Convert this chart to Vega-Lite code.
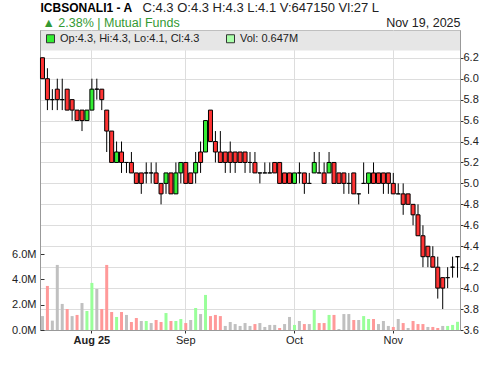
{
  "$schema": "https://vega.github.io/schema/vega-lite/v6.json",
  "width": 420,
  "height": 300,
  "autosize": {"type": "none"},
  "padding": {"left": 40, "top": 30, "right": 40, "bottom": 36},
  "background": "white",
  "config": {
    "font": "Liberation Sans",
    "view": {"stroke": "#999999"},
    "axis": {"labelFont": "Liberation Sans", "titleFont": "Liberation Sans", "labelOverlap": false}
  },
  "datasets": {
    "ohlc": [
      {"d": "2025-07-20", "o": 6.2, "h": 6.2, "l": 6.0, "c": 6.0, "v": 1100000},
      {"d": "2025-07-21", "o": 6.0, "h": 6.1, "l": 5.7, "c": 5.8, "v": 3480000},
      {"d": "2025-07-22", "o": 5.8, "h": 5.9, "l": 5.7, "c": 5.8, "v": 740000},
      {"d": "2025-07-23", "o": 5.9, "h": 6.0, "l": 5.7, "c": 5.8, "v": 5140000},
      {"d": "2025-07-24", "o": 5.8, "h": 6.0, "l": 5.7, "c": 5.8, "v": 2060000},
      {"d": "2025-07-27", "o": 5.9, "h": 5.9, "l": 5.7, "c": 5.7, "v": 1660000},
      {"d": "2025-07-28", "o": 5.8, "h": 5.8, "l": 5.6, "c": 5.7, "v": 1100000},
      {"d": "2025-07-29", "o": 5.7, "h": 5.7, "l": 5.6, "c": 5.6, "v": 1190000},
      {"d": "2025-07-30", "o": 5.7, "h": 5.7, "l": 5.5, "c": 5.6, "v": 2130000},
      {"d": "2025-07-31", "o": 5.6, "h": 5.7, "l": 5.6, "c": 5.7, "v": 1500000},
      {"d": "2025-08-03", "o": 5.7, "h": 6.0, "l": 5.7, "c": 5.9, "v": 3720000},
      {"d": "2025-08-04", "o": 5.9, "h": 6.0, "l": 5.8, "c": 5.9, "v": 3240000},
      {"d": "2025-08-06", "o": 5.9, "h": 5.9, "l": 5.7, "c": 5.8, "v": 1660000},
      {"d": "2025-08-07", "o": 5.7, "h": 5.7, "l": 5.3, "c": 5.5, "v": 5140000},
      {"d": "2025-08-10", "o": 5.5, "h": 5.5, "l": 5.2, "c": 5.2, "v": 1420000},
      {"d": "2025-08-11", "o": 5.2, "h": 5.4, "l": 5.2, "c": 5.3, "v": 1030000},
      {"d": "2025-08-12", "o": 5.3, "h": 5.4, "l": 5.1, "c": 5.2, "v": 1420000},
      {"d": "2025-08-13", "o": 5.2, "h": 5.2, "l": 5.1, "c": 5.2, "v": 1190000},
      {"d": "2025-08-14", "o": 5.2, "h": 5.3, "l": 5.1, "c": 5.1, "v": 630000},
      {"d": "2025-08-17", "o": 5.1, "h": 5.1, "l": 5.0, "c": 5.0, "v": 950000},
      {"d": "2025-08-18", "o": 5.1, "h": 5.1, "l": 4.9, "c": 5.0, "v": 710000},
      {"d": "2025-08-19", "o": 5.1, "h": 5.2, "l": 5.0, "c": 5.1, "v": 710000},
      {"d": "2025-08-20", "o": 5.1, "h": 5.2, "l": 5.0, "c": 5.1, "v": 550000},
      {"d": "2025-08-21", "o": 5.1, "h": 5.2, "l": 5.0, "c": 5.0, "v": 790000},
      {"d": "2025-08-24", "o": 5.0, "h": 5.0, "l": 4.8, "c": 4.9, "v": 630000},
      {"d": "2025-08-25", "o": 5.0, "h": 5.1, "l": 4.9, "c": 5.1, "v": 1340000},
      {"d": "2025-08-26", "o": 5.1, "h": 5.1, "l": 4.9, "c": 4.9, "v": 710000},
      {"d": "2025-08-27", "o": 4.9, "h": 5.2, "l": 4.9, "c": 5.1, "v": 710000},
      {"d": "2025-08-28", "o": 5.1, "h": 5.2, "l": 5.0, "c": 5.2, "v": 870000},
      {"d": "2025-09-01", "o": 5.2, "h": 5.2, "l": 5.0, "c": 5.0, "v": 550000},
      {"d": "2025-09-02", "o": 5.1, "h": 5.1, "l": 5.0, "c": 5.0, "v": 790000},
      {"d": "2025-09-03", "o": 5.1, "h": 5.3, "l": 5.0, "c": 5.2, "v": 1740000},
      {"d": "2025-09-04", "o": 5.3, "h": 5.4, "l": 5.1, "c": 5.2, "v": 1260000},
      {"d": "2025-09-07", "o": 5.3, "h": 5.6, "l": 5.3, "c": 5.6, "v": 2770000},
      {"d": "2025-09-08", "o": 5.7, "h": 5.7, "l": 5.4, "c": 5.4, "v": 1100000},
      {"d": "2025-09-09", "o": 5.4, "h": 5.5, "l": 5.2, "c": 5.3, "v": 1190000},
      {"d": "2025-09-10", "o": 5.3, "h": 5.5, "l": 5.2, "c": 5.2, "v": 1100000},
      {"d": "2025-09-11", "o": 5.3, "h": 5.3, "l": 5.1, "c": 5.2, "v": 320000},
      {"d": "2025-09-14", "o": 5.3, "h": 5.4, "l": 5.1, "c": 5.2, "v": 630000},
      {"d": "2025-09-15", "o": 5.3, "h": 5.3, "l": 5.1, "c": 5.2, "v": 470000},
      {"d": "2025-09-16", "o": 5.3, "h": 5.3, "l": 5.2, "c": 5.2, "v": 320000},
      {"d": "2025-09-17", "o": 5.3, "h": 5.3, "l": 5.1, "c": 5.2, "v": 550000},
      {"d": "2025-09-18", "o": 5.2, "h": 5.3, "l": 5.1, "c": 5.2, "v": 320000},
      {"d": "2025-09-21", "o": 5.2, "h": 5.3, "l": 5.1, "c": 5.1, "v": 470000},
      {"d": "2025-09-22", "o": 5.1, "h": 5.1, "l": 5.0, "c": 5.1, "v": 550000},
      {"d": "2025-09-23", "o": 5.1, "h": 5.2, "l": 5.1, "c": 5.1, "v": 240000},
      {"d": "2025-09-24", "o": 5.1, "h": 5.2, "l": 5.1, "c": 5.1, "v": 400000},
      {"d": "2025-09-25", "o": 5.2, "h": 5.2, "l": 5.1, "c": 5.1, "v": 400000},
      {"d": "2025-09-28", "o": 5.2, "h": 5.2, "l": 5.0, "c": 5.0, "v": 160000},
      {"d": "2025-09-29", "o": 5.1, "h": 5.1, "l": 5.0, "c": 5.0, "v": 470000},
      {"d": "2025-09-30", "o": 5.1, "h": 5.1, "l": 5.0, "c": 5.0, "v": 1030000},
      {"d": "2025-10-05", "o": 5.0, "h": 5.1, "l": 5.0, "c": 5.1, "v": 400000},
      {"d": "2025-10-06", "o": 5.1, "h": 5.2, "l": 5.0, "c": 5.1, "v": 710000},
      {"d": "2025-10-07", "o": 5.1, "h": 5.1, "l": 4.9, "c": 5.0, "v": 470000},
      {"d": "2025-10-08", "o": 5.0, "h": 5.1, "l": 5.0, "c": 5.0, "v": 470000},
      {"d": "2025-10-09", "o": 5.1, "h": 5.3, "l": 5.1, "c": 5.2, "v": 1580000},
      {"d": "2025-10-12", "o": 5.1, "h": 5.3, "l": 5.1, "c": 5.1, "v": 550000},
      {"d": "2025-10-13", "o": 5.1, "h": 5.2, "l": 5.0, "c": 5.0, "v": 550000},
      {"d": "2025-10-14", "o": 5.1, "h": 5.3, "l": 5.1, "c": 5.2, "v": 1190000},
      {"d": "2025-10-15", "o": 5.2, "h": 5.2, "l": 5.0, "c": 5.0, "v": 1190000},
      {"d": "2025-10-16", "o": 5.1, "h": 5.1, "l": 5.0, "c": 5.0, "v": 80000},
      {"d": "2025-10-19", "o": 5.1, "h": 5.1, "l": 4.9, "c": 5.0, "v": 1260000},
      {"d": "2025-10-20", "o": 5.0, "h": 5.1, "l": 4.9, "c": 5.0, "v": 1260000},
      {"d": "2025-10-21", "o": 5.1, "h": 5.1, "l": 4.9, "c": 4.9, "v": 790000},
      {"d": "2025-10-22", "o": 4.9, "h": 4.9, "l": 4.8, "c": 4.9, "v": 790000},
      {"d": "2025-10-23", "o": 5.0, "h": 5.2, "l": 5.0, "c": 5.0, "v": 1100000},
      {"d": "2025-10-26", "o": 5.0, "h": 5.1, "l": 4.9, "c": 5.1, "v": 870000},
      {"d": "2025-10-27", "o": 5.1, "h": 5.2, "l": 5.0, "c": 5.0, "v": 870000},
      {"d": "2025-10-28", "o": 5.1, "h": 5.1, "l": 5.0, "c": 5.0, "v": 470000},
      {"d": "2025-10-29", "o": 5.1, "h": 5.1, "l": 4.9, "c": 5.0, "v": 710000},
      {"d": "2025-10-30", "o": 5.1, "h": 5.1, "l": 4.9, "c": 5.0, "v": 320000},
      {"d": "2025-11-02", "o": 5.0, "h": 5.1, "l": 4.9, "c": 4.9, "v": 240000},
      {"d": "2025-11-03", "o": 4.9, "h": 5.0, "l": 4.9, "c": 4.9, "v": 870000},
      {"d": "2025-11-04", "o": 4.9, "h": 5.0, "l": 4.7, "c": 4.8, "v": 550000},
      {"d": "2025-11-05", "o": 4.9, "h": 4.9, "l": 4.8, "c": 4.8, "v": 160000},
      {"d": "2025-11-06", "o": 4.8, "h": 4.8, "l": 4.6, "c": 4.7, "v": 710000},
      {"d": "2025-11-09", "o": 4.7, "h": 4.8, "l": 4.5, "c": 4.5, "v": 470000},
      {"d": "2025-11-10", "o": 4.5, "h": 4.6, "l": 4.2, "c": 4.3, "v": 470000},
      {"d": "2025-11-11", "o": 4.4, "h": 4.4, "l": 4.2, "c": 4.3, "v": 240000},
      {"d": "2025-11-12", "o": 4.3, "h": 4.4, "l": 4.2, "c": 4.2, "v": 240000},
      {"d": "2025-11-13", "o": 4.2, "h": 4.3, "l": 3.9, "c": 4.0, "v": 160000},
      {"d": "2025-11-16", "o": 4.1, "h": 4.1, "l": 3.8, "c": 4.0, "v": 320000},
      {"d": "2025-11-17", "o": 4.1, "h": 4.2, "l": 4.0, "c": 4.1, "v": 320000},
      {"d": "2025-11-18", "o": 4.2, "h": 4.3, "l": 4.1, "c": 4.2, "v": 400000},
      {"d": "2025-11-19", "o": 4.3, "h": 4.3, "l": 4.1, "c": 4.3, "v": 647150}
    ]
  },
  "layer": [
    {
      "data": {"name": "ohlc"},
      "transform": [
        {"window": [{"op": "lag", "field": "c", "as": "pc"}], "sort": [{"field": "d", "order": "ascending"}]}
      ],
      "mark": {"type": "bar", "size": 3, "strokeWidth": 0},
      "encoding": {
        "x": {
          "field": "d",
          "type": "ordinal",
          "scale": {"type": "band", "paddingInner": 0, "paddingOuter": 0},
          "axis": {
            "orient": "bottom",
            "values": ["2025-08-03", "2025-09-01", "2025-10-05", "2025-11-02"],
            "labelExpr": "datum.value == '2025-08-03' ? 'Aug 25' : datum.value == '2025-09-01' ? 'Sep' : datum.value == '2025-10-05' ? 'Oct' : 'Nov'",
            "labelFontWeight": {"condition": {"test": "datum.value == '2025-08-03'", "value": "bold"}, "value": "normal"},
            "labelAngle": 0,
            "labelFontSize": 11,
            "labelColor": "#222222",
            "bandPosition": 0.5,
            "grid": true,
            "gridColor": "#dddddd",
            "gridWidth": 1,
            "tickColor": "#333333",
            "tickSize": 3,
            "labelPadding": 1,
            "domainColor": "#999999",
            "title": "▲ 2.38% | Mutual Funds",
            "titleX": 2,
            "titleY": -304,
            "titleAlign": "left",
            "titleBaseline": "alphabetic",
            "titleAngle": 0,
            "titleFontSize": 12.5,
            "titleFontWeight": "normal",
            "titleColor": "#339933"
          }
        },
        "y": {
          "field": "v",
          "type": "quantitative",
          "scale": {"domain": [0, 23700000], "nice": false, "zero": true},
          "axis": {
            "orient": "left",
            "values": [0, 2000000, 4000000, 6000000],
            "tickCount": 20,
            "labelExpr": "format(datum.value / 1000000, '.1f') + 'M'",
            "grid": false,
            "domainColor": "#999999",
            "tickColor": "#333333",
            "tickSize": -4,
            "labelPadding": 8,
            "labelFontSize": 11,
            "labelColor": "#222222",
            "title": "Nov 19, 2025",
            "titleAngle": 0,
            "titleX": 420,
            "titleY": -4,
            "titleAlign": "right",
            "titleBaseline": "alphabetic",
            "titleFontSize": 12.5,
            "titleFontWeight": "normal",
            "titleColor": "#222222"
          }
        },
        "fill": {
          "condition": [
            {"test": "datum.pc != null && datum.c > datum.pc", "value": "#99ff99"},
            {"test": "datum.pc != null && datum.c < datum.pc", "value": "#ff9999"}
          ],
          "value": "#c0c0c0"
        }
      }
    },
    {
      "data": {"name": "ohlc"},
      "encoding": {
        "x": {
          "field": "d",
          "type": "ordinal",
          "axis": {
            "orient": "top",
            "labels": false,
            "ticks": false,
            "grid": false,
            "domain": true,
            "domainColor": "#e6e6e6",
            "domainWidth": 20,
            "offset": -10,
            "title": "C:4.3  O:4.3  H:4.3  L:4.1  V:647150  Vl:27 L",
            "titleX": 102,
            "titleY": -29,
            "titleAlign": "left",
            "titleBaseline": "alphabetic",
            "titleAngle": 0,
            "titleFontSize": 13,
            "titleFontWeight": "normal",
            "titleColor": "#222222"
          }
        }
      },
      "layer": [
        {
          "mark": {"type": "rule", "color": "#000000", "strokeWidth": 1},
          "encoding": {
            "y": {
              "field": "l",
              "type": "quantitative",
              "scale": {"domain": [3.6, 6.465], "nice": false, "zero": false},
              "axis": {
                "orient": "right",
                "values": [3.6, 3.8, 4.0, 4.2, 4.4, 4.6, 4.8, 5.0, 5.2, 5.4, 5.6, 5.8, 6.0, 6.2],
                "tickCount": 30,
                "format": ".1f",
                "grid": true,
                "gridColor": "#dddddd",
                "gridWidth": 1,
                "domainColor": "#999999",
                "tickColor": "#333333",
                "tickSize": 3,
                "labelPadding": 0,
                "labelFontSize": 11,
                "labelColor": "#222222",
                "title": "ICBSONALI1 - A",
                "titleX": -420,
                "titleY": -19,
                "titleAlign": "left",
                "titleBaseline": "alphabetic",
                "titleAngle": 0,
                "titleFontSize": 12,
                "titleFontWeight": "bold",
                "titleColor": "#000000"
              }
            },
            "y2": {"field": "h"}
          }
        },
        {
          "mark": {"type": "bar", "size": 4, "stroke": "#000000", "strokeWidth": 1},
          "encoding": {
            "y": {"field": "o", "type": "quantitative"},
            "y2": {"field": "c"},
            "fill": {
              "condition": [
                {"test": "datum.c > datum.o", "value": "#33ee33"},
                {"test": "datum.c < datum.o", "value": "#ff3333"}
              ],
              "value": "#000000"
            }
          }
        }
      ]
    },
    {
      "data": {"values": [{"item": "Op:4.3, Hi:4.3, Lo:4.1, Cl:4.3"}, {"item": "Vol: 0.647M"}]},
      "mark": {"type": "square", "opacity": 0},
      "encoding": {
        "fill": {
          "field": "item",
          "type": "nominal",
          "sort": null,
          "scale": {"range": ["#33ee33", "#aaffaa"]},
          "legend": {
            "orient": "none",
            "legendX": 5,
            "legendY": 3,
            "direction": "horizontal",
            "title": null,
            "symbolType": "square",
            "symbolSize": 64,
            "symbolStrokeColor": "#333333",
            "symbolStrokeWidth": 1,
            "symbolOpacity": 1,
            "labelFontSize": 11,
            "labelFont": "Liberation Sans",
            "labelColor": "#222222",
            "labelOffset": 4,
            "columnPadding": 24,
            "padding": 0,
            "labelLimit": 300
          }
        }
      }
    }
  ],
  "resolve": {
    "scale": {"y": "independent"},
    "axis": {"x": "independent", "y": "independent"}
  }
}
